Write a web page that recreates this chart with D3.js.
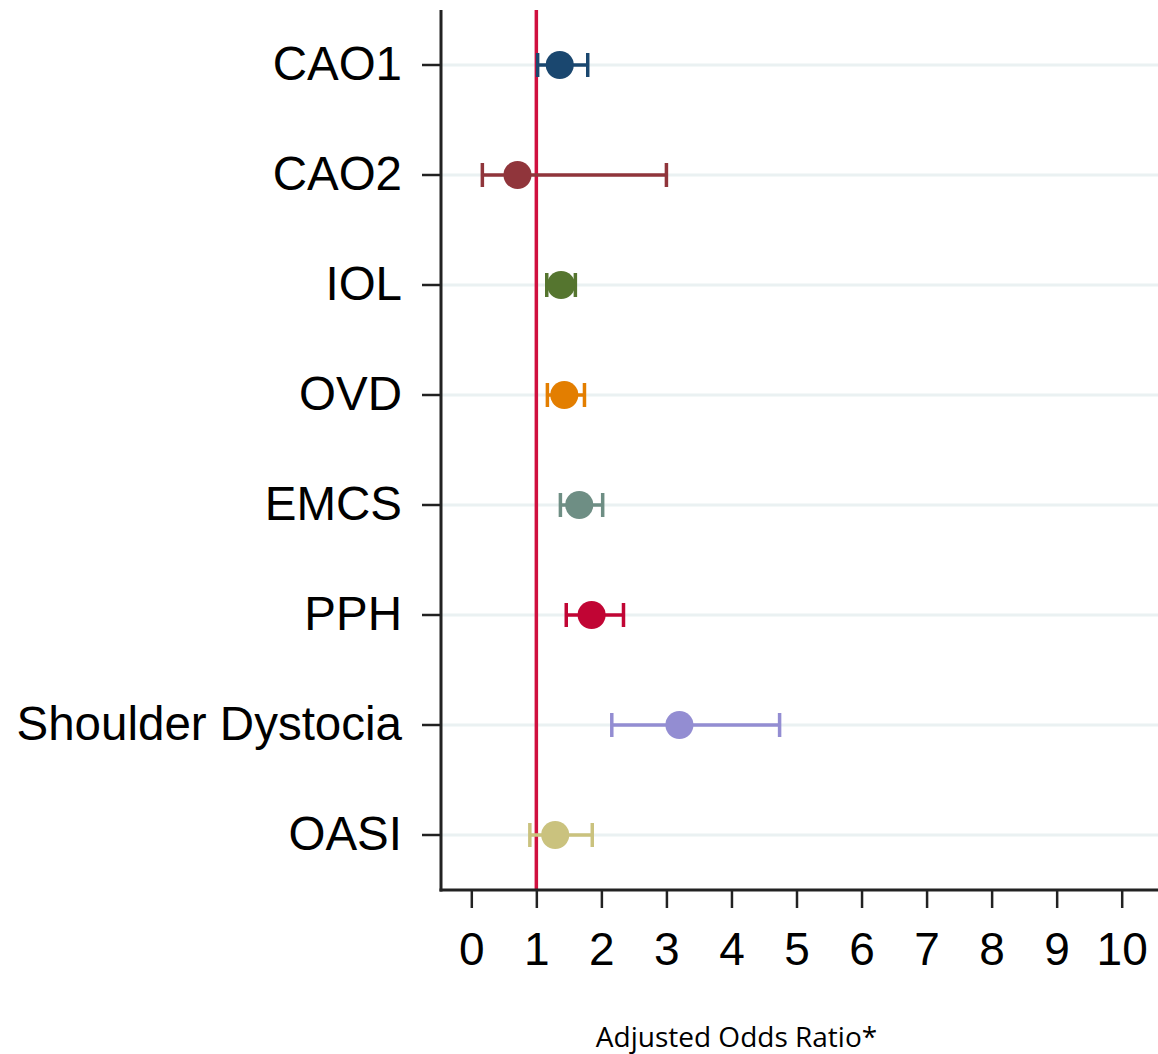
<!DOCTYPE html>
<html>
<head>
<meta charset="utf-8">
<script src="https://cdn.jsdelivr.net/npm/d3@7"></script>
<style>
  body { margin: 0; background: #fff; }
  .chart text { font-family: "Liberation Sans", Arial, sans-serif; fill: #000; }
  .chart .xtitle { font-family: "Open Sans", "Noto Sans", sans-serif; }
</style>
</head>
<body>
<div class="chart"></div>
<script>
// outcomes, top to bottom
var outcomes = ["CAO1", "CAO2", "IOL", "OVD", "EMCS", "PPH", "Shoulder Dystocia", "OASI"];
var aor   = [1.36, 0.71, 1.38, 1.43, 1.66, 1.85, 3.20, 1.29];
var ciLow = [1.02, 0.17, 1.16, 1.17, 1.37, 1.46, 2.16, 0.90];
var ciHigh = [1.79, 3.00, 1.60, 1.74, 2.02, 2.34, 4.74, 1.86];
var colors = ["#1a476f", "#90353b", "#55752f", "#e37e00", "#6e8e84", "#c10534", "#938dd2", "#cac27e"];
var xTicks = [0, 1, 2, 3, 4, 5, 6, 7, 8, 9, 10];
var refValue = 1;

var W = 1158, H = 1054;
var margin = {top: 10, right: 0, bottom: 164, left: 441},
    width = W - margin.left - margin.right,
    height = H - margin.top - margin.bottom;

var svg = d3.select(".chart").append("svg")
    .attr("width", W)
    .attr("height", H)
    .append("g")
    .attr("transform", "translate(" + margin.left + "," + margin.top + ")");

var data = outcomes.map(function(o, i){
    return {name: o, est: aor[i], lo: ciLow[i], hi: ciHigh[i], color: colors[i]};
});

var x = d3.scaleLinear()
    .domain([0, 10])
    .range([30.3, 680.7]);

var y = d3.scaleBand()
    .domain(outcomes)
    .range([0, height]);

// gridlines
svg.selectAll(".grid")
    .data(outcomes)
    .enter().append("line")
    .attr("class", "grid")
    .attr("x1", 0)
    .attr("x2", width)
    .attr("y1", function(d){ return y(d) + y.bandwidth()/2; })
    .attr("y2", function(d){ return y(d) + y.bandwidth()/2; })
    .attr("stroke", "#eaf1f2")
    .attr("stroke-width", 3);

// reference line at OR = 1
svg.append("line")
    .attr("x1", x(refValue))
    .attr("x2", x(refValue))
    .attr("y1", 0)
    .attr("y2", height)
    .attr("stroke", "#d0103f")
    .attr("stroke-width", 3.5);

// x axis
var xAxis = d3.axisBottom(x)
    .tickValues(xTicks)
    .tickSize(18)
    .tickPadding(24)
    .tickFormat(d3.format("d"));

var gx = svg.append("g")
    .attr("class", "x axis")
    .attr("transform", "translate(0," + height + ")")
    .call(xAxis);
gx.select(".domain").remove();
gx.selectAll("line").attr("stroke", "#222").attr("stroke-width", 2.5);
gx.selectAll("text").style("font-size", "46px");
gx.append("line")
    .attr("x1", -1.5).attr("x2", width)
    .attr("y1", 0).attr("y2", 0)
    .attr("stroke", "#222").attr("stroke-width", 3);

// y axis
var yAxis = d3.axisLeft(y)
    .tickSize(19)
    .tickPadding(20);

var gy = svg.append("g")
    .attr("class", "y axis")
    .call(yAxis);
gy.select(".domain").remove();
gy.selectAll("line").attr("stroke", "#222").attr("stroke-width", 2.5);
gy.selectAll("text").style("font-size", "47.5px");
gy.append("line")
    .attr("x1", 0).attr("x2", 0)
    .attr("y1", 0).attr("y2", height + 1.5)
    .attr("stroke", "#222").attr("stroke-width", 3);

// error bars
var rows = svg.selectAll(".row")
    .data(data)
    .enter().append("g")
    .attr("class", "row")
    .attr("transform", function(d){ return "translate(0," + (y(d.name) + y.bandwidth()/2) + ")"; });

rows.append("line")
    .attr("x1", function(d){ return x(d.lo); })
    .attr("x2", function(d){ return x(d.hi); })
    .attr("stroke", function(d){ return d.color; })
    .attr("stroke-width", 3.5);

rows.selectAll(".cap")
    .data(function(d){ return [{v: d.lo, c: d.color}, {v: d.hi, c: d.color}]; })
    .enter().append("line")
    .attr("class", "cap")
    .attr("x1", function(d){ return x(d.v); })
    .attr("x2", function(d){ return x(d.v); })
    .attr("y1", -12)
    .attr("y2", 12)
    .attr("stroke", function(d){ return d.c; })
    .attr("stroke-width", 3.5);

rows.append("circle")
    .attr("cx", function(d){ return x(d.est); })
    .attr("cy", 0)
    .attr("r", 14)
    .attr("fill", function(d){ return d.color; });

// x axis title
svg.append("text")
    .attr("class", "xtitle")
    .attr("x", 736.5 - margin.left)
    .attr("y", 1047 - margin.top)
    .attr("text-anchor", "middle")
    .style("font-size", "28px")
    .text("Adjusted Odds Ratio*");
</script>
</body>
</html>
